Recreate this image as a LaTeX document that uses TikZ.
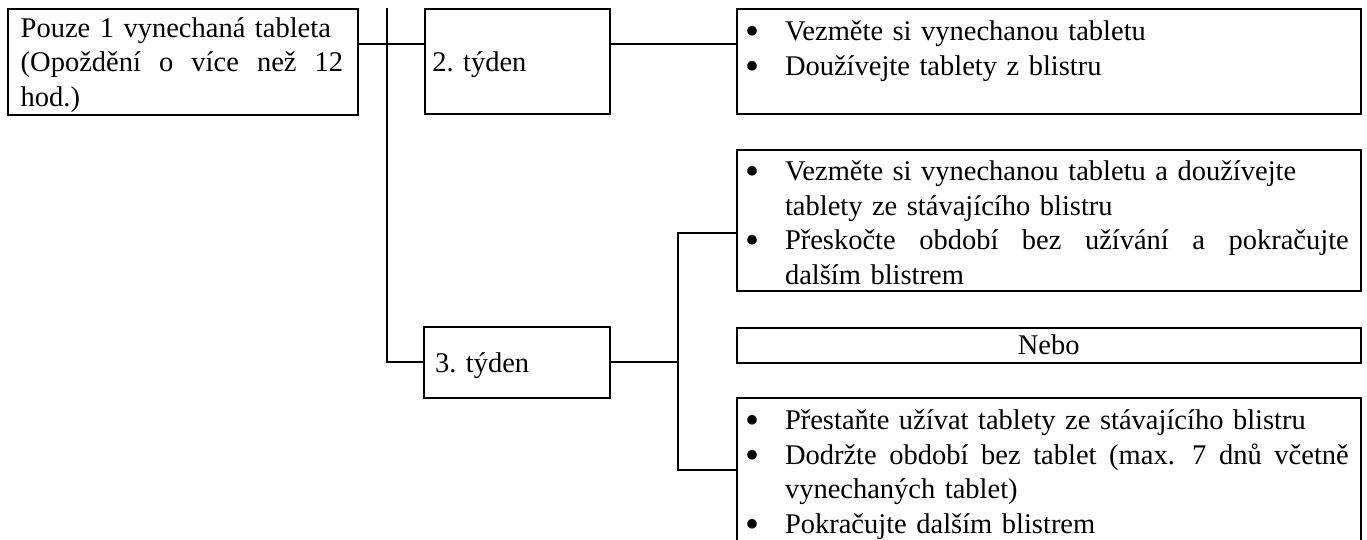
\documentclass[tikz,border=0pt]{standalone}
\usepackage{fontspec}
\setmainfont{Liberation Serif}
\usetikzlibrary{calc}
\newcommand{\bl}{\makebox[15pt][l]{\hspace{-0.9pt}\smash{\raisebox{-1.5pt}{\fontsize{16pt}{0pt}\selectfont •}}}}
\newcommand{\ind}{\hspace*{15pt}}
\newcommand{\jl}{\hspace{0pt plus 1fill}}
\begin{document}
\begin{tikzpicture}[x=0.4pt,y=-0.4pt,
  box/.style={draw,line width=0.8pt,anchor=north west,inner sep=0pt,outer sep=0pt},
  txt/.style={anchor=north west,inner sep=0pt,outer sep=0pt,align=left,
    font=\fontsize{11.4pt}{13.8pt}\selectfont},
  conn/.style={line width=0.8pt}]
\path[use as bounding box,clip] (0,0) rectangle (1367,540);
% boxes
\node[box,minimum width=140pt,minimum height=42.4pt] (A) at (8,8.5) {};
\node[box,minimum width=74pt,minimum height=42pt] (W2) at (425,9) {};
\node[box,minimum width=249.4pt,minimum height=42pt] (R2) at (737,9) {};
\node[box,minimum width=74.4pt,minimum height=28.2pt] (W3) at (424,327) {};
\node[box,minimum width=249.4pt,minimum height=56.2pt] (R3a) at (737,150) {};
\node[box,minimum width=249.4pt,minimum height=14pt] (Nebo) at (737,327.5) {};
\node[box,minimum width=249.4pt,minimum height=90pt] (R3c) at (737,398) {};
% texts
\node[txt,text width=130pt] (tA) at (20.7,13.2)
  {\strut Pouze 1 vynechaná tableta\\
   \makebox[129pt][l]{(Opoždění\jl{} o\jl{} více\jl{} než\jl{} 12}\\hod.)};
\node[txt] (tW2) at (432.3,47.3) {\strut 2. týden};
\node[txt] (tW3) at (435,348.3) {\strut 3. týden};
\node[txt,text width=245pt] (tR2) at (747.5,16.6)
  {\strut\bl Vezměte si vynechanou tabletu\\\bl Doužívejte tablety z blistru};
\node[txt,text width=245pt] (tR3a) at (747.5,156.8)
  {\strut\bl Vezměte si vynechanou tabletu a doužívejte\\
   \ind tablety ze stávajícího blistru\\
   \bl\makebox[225.5pt][l]{Přeskočte\jl{} období\jl{} bez\jl{} užívání\jl{} a\jl{} pokračujte}\\
   \ind dalším blistrem};
\node[txt,anchor=base] (tNebo) at (1048.75,354.7) {Nebo};
\node[txt,text width=245pt] (tR3c) at (747.5,405.8)
  {\strut\bl Přestaňte užívat tablety ze stávajícího blistru\\
   \bl\makebox[225.5pt][l]{Dodržte\jl{} období\jl{} bez\jl{} tablet\jl{} (max.\jl{} 7\jl{} dnů\jl{} včetně}\\
   \ind vynechaných tablet)\\
   \bl Pokračujte dalším blistrem};
% connectors
\coordinate (t1) at (387,8.3);
\coordinate (j1) at (387,44.3);
\coordinate (j2) at (678,232.7);
\coordinate (j4) at (678,470);
\draw[conn] (A.east |- j1) -- (W2.west |- j1);
\draw[conn] (t1) |- (W3.west);
\draw[conn] (W2.east |- j1) -- (R2.west |- j1);
\draw[conn] (W3.east) -- (W3.east -| j2);
\draw[conn] (R3a.west |- j2) -- (j2) -- (j4) -- (R3c.west |- j4);
\end{tikzpicture}
\end{document}
